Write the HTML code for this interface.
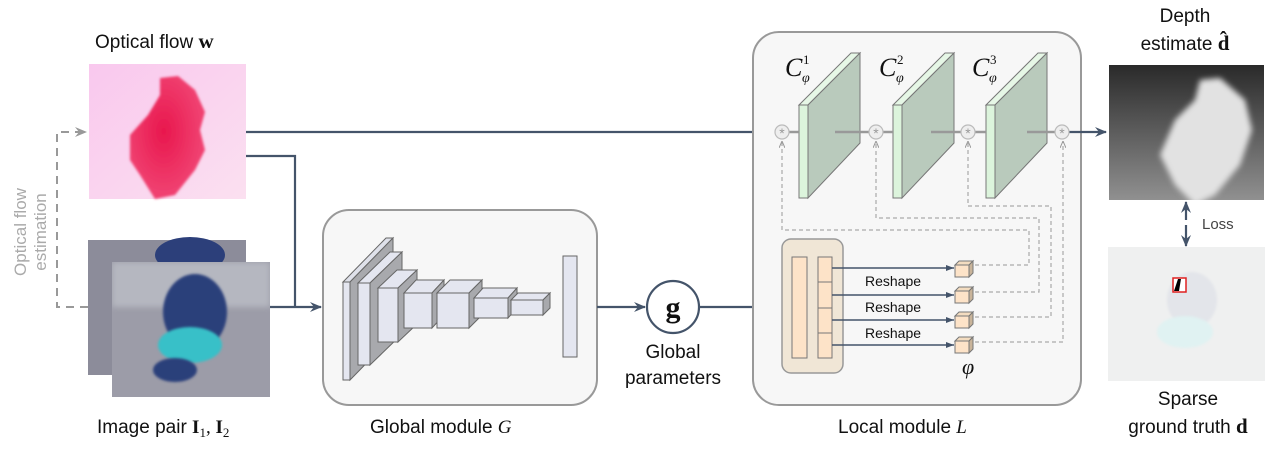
<!DOCTYPE html>
<html><head><meta charset="utf-8"><style>
html,body{margin:0;padding:0;background:#fff;}
svg{display:block;font-family:"Liberation Sans",sans-serif;}
.t{font-size:19px;fill:#111;}
.m{font-family:"Liberation Serif",serif;}
</style></head><body>
<svg width="1281" height="468" viewBox="0 0 1281 468" xmlns="http://www.w3.org/2000/svg">
<defs>
<marker id="a" markerWidth="12" markerHeight="10" refX="11" refY="5" orient="auto" markerUnits="userSpaceOnUse"><path d="M0,0 L12,5 L0,10 L4,5z" fill="#44546a"/></marker>
<marker id="ag" markerWidth="12" markerHeight="10" refX="11" refY="5" orient="auto" markerUnits="userSpaceOnUse"><path d="M0,0 L12,5 L0,10 L4,5z" fill="#999"/></marker>
<marker id="as" markerWidth="8" markerHeight="6" refX="8" refY="3" orient="auto" markerUnits="userSpaceOnUse"><path d="M0,0 L8,3 L0,6z" fill="#44546a"/></marker>
<marker id="asg" markerWidth="7" markerHeight="6" refX="7" refY="3" orient="auto" markerUnits="userSpaceOnUse"><path d="M0,0 L7,3 L0,6" fill="none" stroke="#999" stroke-width="1"/></marker>
<radialGradient id="pk" cx="0.45" cy="0.45" r="0.5"><stop offset="0" stop-color="#e8174d"/><stop offset="1" stop-color="#f04070"/></radialGradient>
<linearGradient id="pkbg" x1="0" y1="0" x2="1" y2="1"><stop offset="0" stop-color="#f9c8ee"/><stop offset="1" stop-color="#fbe0f0"/></linearGradient>
<linearGradient id="dp" x1="0" y1="0" x2="0" y2="1"><stop offset="0" stop-color="#2a2a2a"/><stop offset="1" stop-color="#909090"/></linearGradient>
<filter id="bl" x="-20%" y="-20%" width="140%" height="140%"><feGaussianBlur stdDeviation="3"/></filter>
<filter id="bl2" x="-20%" y="-20%" width="140%" height="140%"><feGaussianBlur stdDeviation="1.2"/></filter>
<clipPath id="c1"><rect x="1109" y="65" width="155" height="135"/></clipPath>
<clipPath id="c2"><rect x="112" y="262" width="158" height="135"/></clipPath>
</defs>

<text class="t" x="95" y="48">Optical flow <tspan class="m" font-weight="bold" font-size="21">w</tspan></text>
<text class="t" x="1185" y="22" text-anchor="middle">Depth</text>
<text class="t" x="1185" y="50" text-anchor="middle">estimate <tspan class="m" font-weight="bold" font-size="21">d̂</tspan></text>
<text class="t" x="97" y="433">Image pair <tspan class="m" font-weight="bold">I</tspan><tspan class="m" font-size="13" dy="4">1</tspan><tspan class="m" dy="-4">, </tspan><tspan class="m" font-weight="bold">I</tspan><tspan class="m" font-size="13" dy="4">2</tspan></text>
<text class="t" x="370" y="433">Global module <tspan class="m" font-style="italic">G</tspan></text>
<text class="t" x="838" y="433">Local module <tspan class="m" font-style="italic">L</tspan></text>
<text class="t" x="1188" y="405" text-anchor="middle">Sparse</text>
<text class="t" x="1188" y="433" text-anchor="middle">ground truth <tspan class="m" font-weight="bold" font-size="21">d</tspan></text>
<text class="t" x="673" y="358" text-anchor="middle" font-size="18">Global</text>
<text class="t" x="673" y="384" text-anchor="middle" font-size="18">parameters</text>
<g transform="translate(26,232) rotate(-90)" fill="#aaa" font-size="17" text-anchor="middle"><text x="0" y="0">Optical flow</text><text x="0" y="20">estimation</text></g>

<rect x="89" y="64" width="157" height="135" fill="url(#pkbg)"/>
<path d="M160,78 L178,76 L195,90 L205,112 L200,130 L205,150 L195,170 L175,195 L155,199 L140,175 L130,160 L130,135 L148,115 L160,95z" fill="url(#pk)" filter="url(#bl2)"/>

<rect x="88" y="240" width="158" height="135" fill="#8c8c9a"/>
<ellipse cx="190" cy="255" rx="35" ry="18" fill="#2c3f7a"/>
<rect x="112" y="262" width="158" height="135" fill="#9c9ca8"/>
<g clip-path="url(#c2)">
<rect x="112" y="262" width="158" height="45" fill="#b5b7c0" filter="url(#bl)"/>
<ellipse cx="195" cy="312" rx="32" ry="38" fill="#2c3f7a" filter="url(#bl2)"/>
<ellipse cx="190" cy="345" rx="32" ry="18" fill="#38c0c8" filter="url(#bl2)"/>
<ellipse cx="175" cy="370" rx="22" ry="12" fill="#2c3f7a" filter="url(#bl2)"/>
</g>

<polyline points="88,307 57,307 57,132 86,132" fill="none" stroke="#999" stroke-width="2" stroke-dasharray="8,6" marker-end="url(#ag)"/>

<line x1="246" y1="132" x2="773" y2="132" stroke="#44546a" stroke-width="2.2" marker-end="url(#a)"/>
<polyline points="246,156 295,156 295,307" fill="none" stroke="#44546a" stroke-width="2.2"/>
<line x1="270" y1="307" x2="321" y2="307" stroke="#44546a" stroke-width="2.2" marker-end="url(#a)"/>

<rect x="323" y="210" width="274" height="195" rx="26" fill="#f7f7f7" stroke="#999" stroke-width="2"/>
<g stroke="#666" stroke-width="1" fill="#e4e6f0">
<path d="M343,282 L386,238 L393,238 L350,282z" fill="#dfe1ea"/><path d="M350,282 L393,238 L393,336 L350,380z" fill="#a8a9ad"/><rect x="343" y="282" width="7" height="98"/>
<path d="M358,283 L390,252 L402,252 L370,283z"/><path d="M370,283 L402,252 L402,334 L370,365z" fill="#a8a9ad"/><rect x="358" y="283" width="12" height="82"/>
<path d="M378,288 L397,270 L417,270 L398,288z"/><path d="M398,288 L417,270 L417,324 L398,342z" fill="#a8a9ad"/><rect x="378" y="288" width="20" height="54"/>
<path d="M404,293 L416,280 L444,280 L432,293z"/><path d="M432,293 L444,280 L444,315 L432,328z" fill="#a8a9ad"/><rect x="404" y="293" width="28" height="35"/>
<path d="M437,293 L450,280 L482,280 L469,293z"/><path d="M469,293 L482,280 L482,315 L469,328z" fill="#a8a9ad"/><rect x="437" y="293" width="32" height="35"/>
<path d="M474,298 L483,288 L517,288 L508,298z"/><path d="M508,298 L517,288 L517,308 L508,318z" fill="#a8a9ad"/><rect x="474" y="298" width="34" height="20"/>
<path d="M511,300 L518,293 L550,293 L543,300z"/><path d="M543,300 L550,293 L550,308 L543,315z" fill="#a8a9ad"/><rect x="511" y="300" width="32" height="15"/>
<rect x="563" y="256" width="14" height="101"/>
</g>

<line x1="597" y1="307" x2="645" y2="307" stroke="#44546a" stroke-width="2.2" marker-end="url(#a)"/>
<circle cx="673" cy="307" r="26" fill="#fff" stroke="#44546a" stroke-width="2.2"/>
<text x="673" y="317" text-anchor="middle" class="m" font-weight="bold" font-size="30" fill="#111">g</text>
<line x1="699" y1="307" x2="780" y2="307" stroke="#44546a" stroke-width="2.2" marker-end="url(#a)"/>

<rect x="753" y="32" width="328" height="373" rx="26" fill="#f7f7f7" stroke="#999" stroke-width="2"/>
<g stroke="#777" stroke-width="1">
<path d="M799,105 L851,53 L860,53 L808,105z" fill="#e6f7e6"/><path d="M808,105 L860,53 L860,143 L808,198z" fill="#b9cabc"/><rect x="799" y="105" width="9" height="93" fill="#dcf4dc"/>
<path d="M893,105 L945,53 L954,53 L902,105z" fill="#e6f7e6"/><path d="M902,105 L954,53 L954,143 L902,198z" fill="#b9cabc"/><rect x="893" y="105" width="9" height="93" fill="#dcf4dc"/>
<path d="M986,105 L1038,53 L1047,53 L995,105z" fill="#e6f7e6"/><path d="M995,105 L1047,53 L1047,143 L995,198z" fill="#b9cabc"/><rect x="986" y="105" width="9" height="93" fill="#dcf4dc"/>
</g>
<g stroke="#999" stroke-width="2.5">
<line x1="789" y1="132" x2="799" y2="132"/><line x1="835" y1="132" x2="869" y2="132"/>
<line x1="883" y1="132" x2="893" y2="132"/><line x1="931" y1="132" x2="961" y2="132"/>
<line x1="975" y1="132" x2="986" y2="132"/><line x1="1027" y1="132" x2="1055" y2="132"/>
</g>
<line x1="1069" y1="132" x2="1106" y2="132" stroke="#44546a" stroke-width="2.2" marker-end="url(#a)"/>
<g fill="#eee" stroke="#bbb" stroke-width="1.2">
<circle cx="782" cy="132" r="7"/><circle cx="876" cy="132" r="7"/><circle cx="968" cy="132" r="7"/><circle cx="1062" cy="132" r="7"/>
</g>
<g fill="#999" font-size="14" text-anchor="middle"><text x="782" y="138">*</text><text x="876" y="138">*</text><text x="968" y="138">*</text><text x="1062" y="138">*</text></g>
<g class="m" font-style="italic" font-size="26" fill="#111">
<text x="785" y="76">C</text><text x="879" y="76">C</text><text x="972" y="76">C</text>
</g>
<g class="m" font-size="13" fill="#111"><text x="803" y="64">1</text><text x="897" y="64">2</text><text x="990" y="64">3</text></g>
<g class="m" font-style="italic" font-size="14" fill="#111"><text x="802" y="82">φ</text><text x="896" y="82">φ</text><text x="989" y="82">φ</text></g>

<g fill="none" stroke="#aaa" stroke-width="1.2" stroke-dasharray="4,3">
<polyline points="975,265 1029,265 1029,230 782,230 782,141" marker-end="url(#asg)"/>
<polyline points="975,292 1039,292 1039,218 876,218 876,141" marker-end="url(#asg)"/>
<polyline points="975,317 1051,317 1051,206 968,206 968,141" marker-end="url(#asg)"/>
<polyline points="975,342 1063,342 1063,141" marker-end="url(#asg)"/>
</g>

<rect x="782" y="239" width="61" height="134" rx="9" fill="#f0e6d6" stroke="#999" stroke-width="1.5"/>
<rect x="792" y="257" width="15" height="101" fill="#fde3c8" stroke="#777"/>
<g fill="#fde3c8" stroke="#777"><rect x="818" y="257" width="14" height="25"/><rect x="818" y="282" width="14" height="26"/><rect x="818" y="308" width="14" height="25"/><rect x="818" y="333" width="14" height="25"/></g>
<g stroke="#44546a" stroke-width="1.5" marker-end="url(#as)">
<line x1="832" y1="268" x2="954" y2="268"/><line x1="832" y1="295" x2="954" y2="295"/><line x1="832" y1="320" x2="954" y2="320"/><line x1="832" y1="345" x2="954" y2="345"/>
</g>
<g font-size="14" fill="#111"><text x="865" y="286">Reshape</text><text x="865" y="312">Reshape</text><text x="865" y="338">Reshape</text></g>
<g stroke="#777" stroke-width="1">
<g transform="translate(955,261)"><path d="M0,4 L4,0 L18,0 L14,4z" fill="#f3dcc0"/><path d="M14,4 L18,0 L18,12 L14,16z" fill="#c9b49a"/><rect x="0" y="4" width="14" height="12" fill="#fde3c8"/></g>
<g transform="translate(955,287)"><path d="M0,4 L4,0 L18,0 L14,4z" fill="#f3dcc0"/><path d="M14,4 L18,0 L18,12 L14,16z" fill="#c9b49a"/><rect x="0" y="4" width="14" height="12" fill="#fde3c8"/></g>
<g transform="translate(955,312)"><path d="M0,4 L4,0 L18,0 L14,4z" fill="#f3dcc0"/><path d="M14,4 L18,0 L18,12 L14,16z" fill="#c9b49a"/><rect x="0" y="4" width="14" height="12" fill="#fde3c8"/></g>
<g transform="translate(955,337)"><path d="M0,4 L4,0 L18,0 L14,4z" fill="#f3dcc0"/><path d="M14,4 L18,0 L18,12 L14,16z" fill="#c9b49a"/><rect x="0" y="4" width="14" height="12" fill="#fde3c8"/></g>
</g>
<text x="962" y="374" class="m" font-style="italic" font-size="22" fill="#111">φ</text>

<rect x="1109" y="65" width="155" height="135" fill="url(#dp)"/>
<g clip-path="url(#c1)">
<path d="M1200,80 L1220,78 L1245,100 L1252,130 L1240,165 L1215,195 L1195,205 L1175,185 L1160,155 L1175,120 L1195,100z" fill="#e2e2e2" filter="url(#bl)"/>
</g>
<line x1="1186" y1="220" x2="1186" y2="202" stroke="#44546a" stroke-width="2.2" marker-end="url(#a)"/>
<line x1="1186" y1="225" x2="1186" y2="246" stroke="#44546a" stroke-width="2.2" marker-end="url(#a)"/>
<text x="1202" y="229" font-size="15" fill="#444">Loss</text>
<rect x="1108" y="247" width="157" height="134" fill="#eff0f0"/>
<ellipse cx="1192" cy="300" rx="25" ry="28" fill="#e3e5ea" filter="url(#bl2)"/>
<ellipse cx="1185" cy="332" rx="28" ry="16" fill="#e0f2f2" filter="url(#bl2)"/>
<rect x="1173" y="278" width="13" height="14" fill="#fff" stroke="#e02020" stroke-width="1.5"/>
<path d="M1174,291 L1178,279 L1181,279 L1179,291z" fill="#000"/>
</svg>
</body></html>
